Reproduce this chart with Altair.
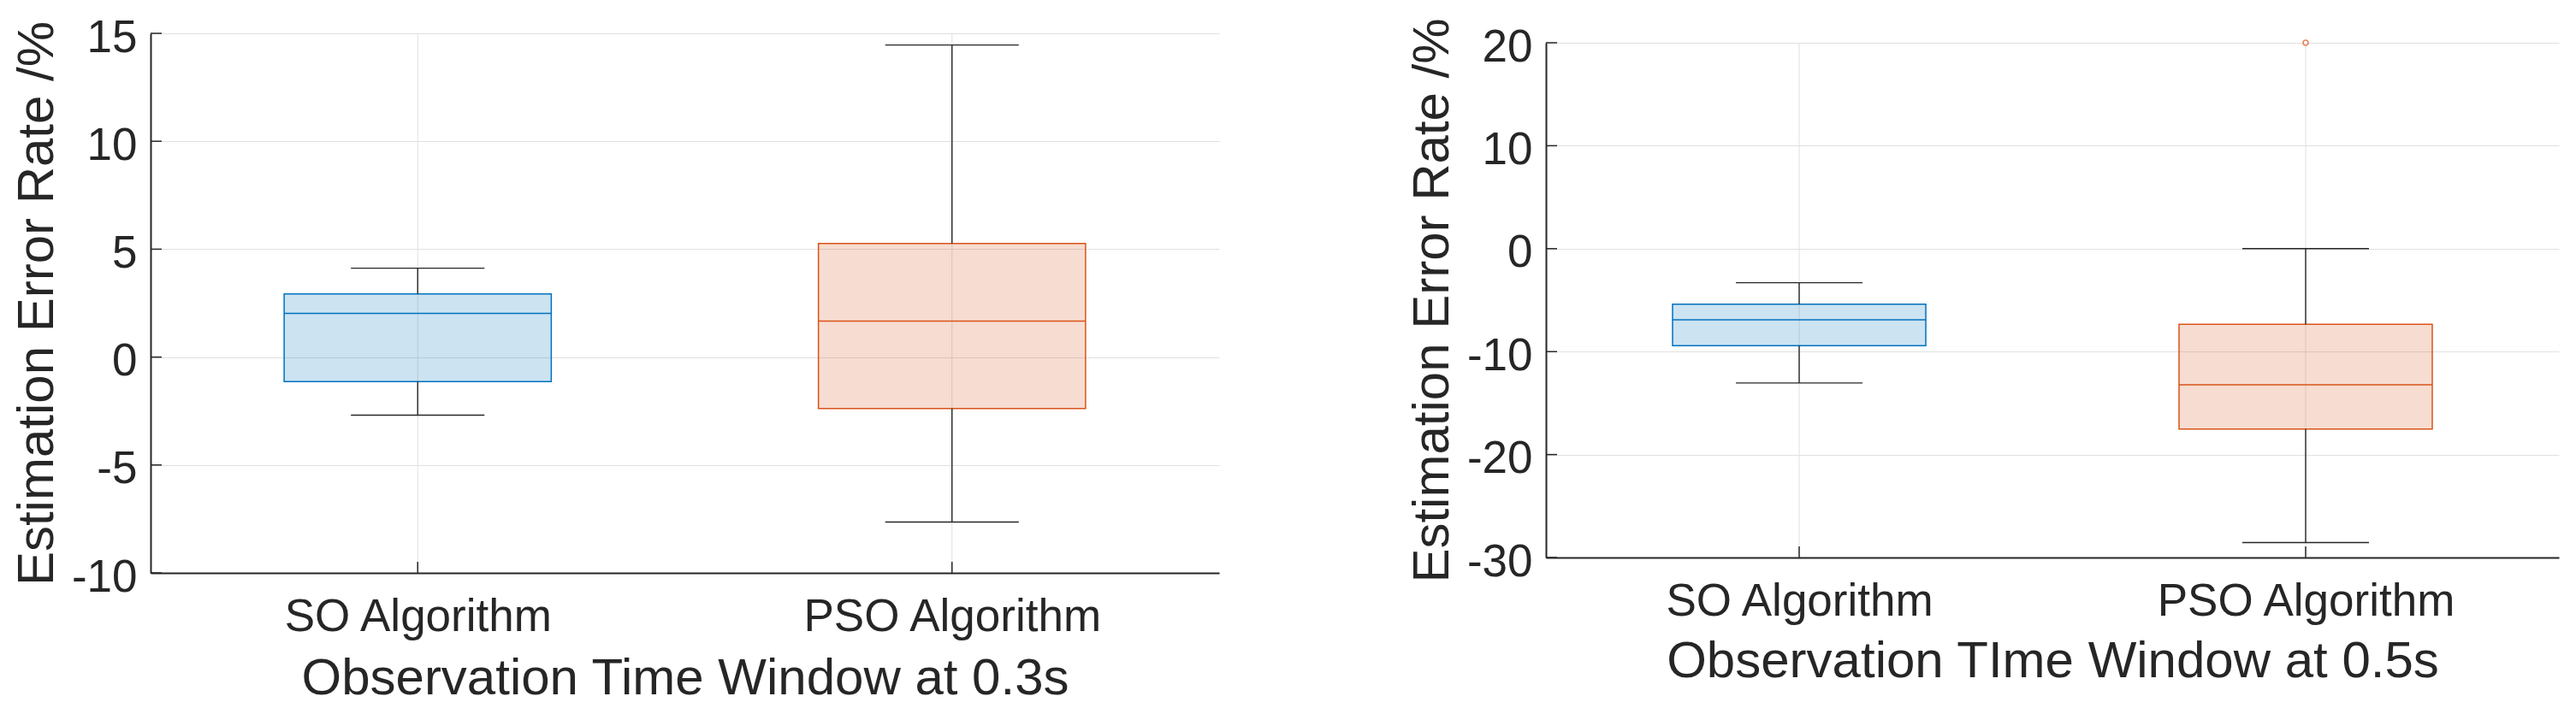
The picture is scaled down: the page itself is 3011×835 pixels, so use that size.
import altair as alt
import pandas as pd

# ---------------- data ----------------
categories = ["SO Algorithm", "PSO Algorithm"]
positions = [1, 2]
x_domain = [0.5, 2.5]

# Panel A : observation window 0.3 s
a_low = [-2.69, -7.64]
a_q1 = [-1.14, -2.38]
a_median = [2.02, 1.67]
a_q3 = [2.93, 5.26]
a_high = [4.12, 14.46]
a_out_cat = []
a_out_val = []
a_yticks = [-10, -5, 0, 5, 10, 15]
a_xtitle = "Observation Time Window at 0.3s"

# Panel B : observation window 0.5 s
b_low = [-13.05, -28.55]
b_q1 = [-9.43, -17.53]
b_median = [-6.90, -13.23]
b_q3 = [-5.39, -7.34]
b_high = [-3.31, 0.0]
b_out_cat = ["PSO Algorithm"]
b_out_val = [20.0]
b_yticks = [-30, -20, -10, 0, 10, 20]
b_xtitle = "Observation TIme Window at 0.5s"

ytitle = "Estimation Error Rate /%"

# ---------------- style ----------------
FONT = "Liberation Sans"
INK = "#262626"
GRID = "#E0E0E0"
BOX_COLORS = ["#0072BD", "#D95319"]
TICK = 13


def panel(low, q1, med, q3, high, out_cat, out_val, yticks, xtitle,
          W, H, yrange, xtitle_pad):
    df = pd.DataFrame({"cat": categories, "pos": positions, "low": low,
                       "q1": q1, "med": med, "q3": q3, "high": high})
    pos_of = dict(zip(categories, positions))
    dfo = pd.DataFrame({"cat": out_cat,
                        "pos": [pos_of[c] for c in out_cat],
                        "val": out_val})
    dfx = pd.DataFrame({"pos": positions,
                        "ybase": [yticks[0]] * len(positions),
                        "ytop": [yticks[-1]] * len(positions)})
    dfy = pd.DataFrame({"val": yticks, "xbase": [x_domain[0]] * len(yticks)})

    xs = alt.Scale(domain=x_domain, nice=False, zero=False)
    ys = alt.Scale(domain=[yticks[0], yticks[-1]], nice=False, zero=False,
                   range=yrange)
    cscale = alt.Scale(domain=categories, range=BOX_COLORS)

    label_expr = "datum.value == %d ? '%s' : '%s'" % (
        positions[0], categories[0], categories[1])

    x_axis = alt.Axis(values=positions, labelExpr=label_expr, title=xtitle,
                      grid=False,
                      ticks=False, tickSize=0,
                      domainColor=INK, domainWidth=2,
                      labelFont=FONT, labelFontSize=53, labelColor=INK,
                      labelPadding=25, labelFlush=False, labelOverlap=False,
                      labelLimit=2000,
                      titleFont=FONT, titleFontSize=60, titleColor=INK,
                      titleFontWeight="normal", titlePadding=xtitle_pad,
                      titleLimit=3000)
    y_axis = alt.Axis(values=yticks, title=ytitle,
                      labelExpr="'' + datum.value",
                      grid=True, gridColor=GRID, gridWidth=1,
                      ticks=False, tickSize=0,
                      domainColor=INK, domainWidth=2,
                      labelFont=FONT, labelFontSize=53, labelColor=INK,
                      labelPadding=16, labelFlush=False, labelOverlap=False,
                      labelOffset=5, labelLimit=2000,
                      titleFont=FONT, titleFontSize=60, titleColor=INK,
                      titleFontWeight="normal", titlePadding=9,
                      titleLimit=3000)

    def X(f):
        return alt.X(f, scale=xs, axis=x_axis)

    def Y(f):
        return alt.Y(f, scale=ys, axis=y_axis)

    # vertical grid lines spanning the data range only
    vgrid = alt.Chart(dfx).mark_rule(color=GRID, strokeWidth=1).encode(
        x=X("pos:Q"), y=Y("ybase:Q"), y2="ytop:Q")

    base = alt.Chart(df).transform_calculate(
        x0="datum.pos - 0.25", x1="datum.pos + 0.25",
        c0="datum.pos - 0.125", c1="datum.pos + 0.125")

    box = base.mark_rect(fillOpacity=0.2, strokeWidth=1.5).encode(
        x=X("x0:Q"), x2="x1:Q", y=Y("q1:Q"), y2="q3:Q",
        fill=alt.Fill("cat:N", scale=cscale, legend=None),
        stroke=alt.Stroke("cat:N", scale=cscale, legend=None),
    )
    median = base.mark_rule(strokeWidth=1.5).encode(
        x=X("x0:Q"), x2="x1:Q", y=Y("med:Q"),
        stroke=alt.Stroke("cat:N", scale=cscale, legend=None),
    )
    whisk_lo = base.mark_rule(strokeWidth=1.4, color=INK).encode(
        x=X("pos:Q"), y=Y("low:Q"), y2="q1:Q")
    whisk_hi = base.mark_rule(strokeWidth=1.4, color=INK).encode(
        x=X("pos:Q"), y=Y("q3:Q"), y2="high:Q")
    cap_hi = base.mark_rule(strokeWidth=1.4, color=INK).encode(
        x=X("c0:Q"), x2="c1:Q", y=Y("high:Q"))
    cap_lo = base.mark_rule(strokeWidth=1.4, color=INK).encode(
        x=X("c0:Q"), x2="c1:Q", y=Y("low:Q"))

    # inward-pointing tick marks (MATLAB style)
    xticks = alt.Chart(dfx).mark_rule(color=INK, strokeWidth=1.5,
                                      y2Offset=-TICK).encode(
        x=X("pos:Q"), y=Y("ybase:Q"), y2="ybase:Q")
    yticks_m = alt.Chart(dfy).mark_rule(color=INK, strokeWidth=1.5,
                                        x2Offset=TICK).encode(
        x=X("xbase:Q"), x2="xbase:Q", y=Y("val:Q"))

    layers = [vgrid, box, median, whisk_lo, whisk_hi, cap_hi, cap_lo,
              xticks, yticks_m]
    if len(dfo):
        outl = alt.Chart(dfo).mark_point(shape="circle", filled=False,
                                         size=36, strokeWidth=1.5).encode(
            x=X("pos:Q"), y=Y("val:Q"),
            stroke=alt.Stroke("cat:N", scale=cscale, legend=None))
        layers.append(outl)
    return alt.layer(*layers).properties(width=W, height=H)


WA, HA = 1249, 631
WB, HB = 1184, 613

left = panel(a_low, a_q1, a_median, a_q3, a_high, a_out_cat, a_out_val,
             a_yticks, a_xtitle, WA, HA, [HA, 0], 16)
right = panel(b_low, b_q1, b_median, b_q3, b_high, b_out_cat, b_out_val,
              b_yticks, b_xtitle, WB, HB, [HB, 11], 14)

chart = alt.hconcat(left, right, spacing=219).properties(
    padding={"left": 5, "top": 10, "right": 5, "bottom": 5},
    background="white",
).configure_view(stroke=None)

chart.save("out.html", embed_options={"renderer": "svg", "actions": False})
